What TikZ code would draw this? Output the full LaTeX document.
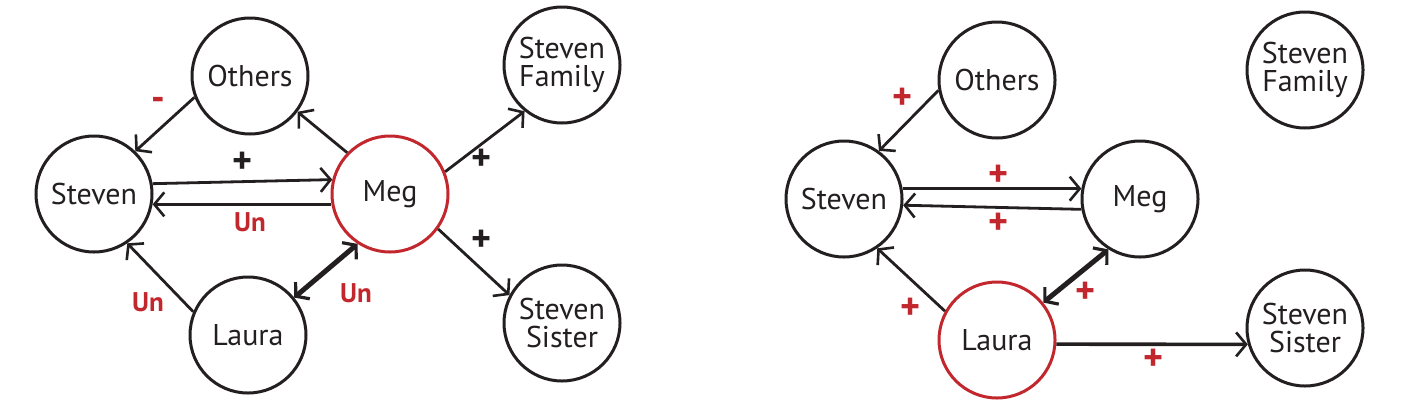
\documentclass[tikz,border=0pt]{standalone}
\usepackage{fontspec}
\setmainfont{PT Sans}
\usetikzlibrary{arrows.meta}
\definecolor{nred}{HTML}{C1272D}
\definecolor{ink}{HTML}{231F20}
\tikzset{
  person/.style={circle, draw=ink, line width=3pt, minimum size=116pt, inner sep=0pt, align=center, font=\fontsize{30}{28}\selectfont, text=ink},
  focus/.style={person, draw=nred},
  link/.style={draw=ink, line width=2.8pt, -{Straight Barb[length=10pt,width=24pt,line width=2.6pt]}},
  thick link/.style={draw=ink, line width=5pt, {Straight Barb[length=9pt,width=22pt,line width=3.2pt]}-{Straight Barb[length=9pt,width=22pt,line width=3.2pt]}},
  sign/.style={font=\bfseries\fontsize{27}{27}\selectfont, text=nred, inner sep=0pt},
  plus/.style={font=\bfseries\fontsize{38}{38}\selectfont, text=nred, inner sep=0pt},
  blackplus/.style={plus, text=ink},
}
\begin{document}
\begin{tikzpicture}[x=1pt,y=-1pt]
\useasboundingbox (0,0) rectangle (1421,413);
% left panel
\node[person] (o1) at (250,76) {Others};
\node[person] (s1) at (94,194) {Steven};
\node[focus]  (m1) at (390,194) {Meg};
\node[person] (l1) at (248,335) {Laura};
\node[person] (f1) at (562,65) {Steven\\Family};
\node[person] (ss1) at (562,323) {Steven\\Sister};
\draw[link] (o1.201) -- (s1.46);
\draw[link] (m1.136) -- (o1.-37);
\draw[link] (s1.10) -- (m1.166);
\draw[link] (m1.190) -- (s1.-10);
\draw[link] (l1.157) -- (s1.-56);
\draw[thick link] (l1.39) -- (m1.237);
\draw[link] (m1.22) -- (f1.231);
\draw[link] (m1.-36) -- (ss1.152);
\node[plus] (a1) at (158,104) {-};
\node[blackplus] (a2) at (243,163) {+};
\node[sign] (a3) at (250,222) {Un};
\node[sign] (a4) at (148,302) {Un};
\node[sign] (a5) at (356,293) {Un};
\node[blackplus] (a6) at (482,160) {+};
\node[blackplus] (a7) at (482,241) {+};
% right panel
\node[person] (o2) at (997,80) {Others};
\node[person] (s2) at (844,199) {Steven};
\node[person] (m2) at (1140,199) {Meg};
\node[focus]  (l2) at (997,340) {Laura};
\node[person] (f2) at (1305,70) {Steven\\Family};
\node[person] (ss2) at (1305,328) {Steven\\Sister};
\draw[link] (o2.190) -- (s2.54);
\draw[link] (s2.10) -- (m2.170);
\draw[link] (m2.190) -- (s2.-6);
\draw[link] (l2.151) -- (s2.-56);
\draw[thick link] (l2.39) -- (m2.238);
\draw[link, line width=3.6pt] (l2.-4) -- (ss2.196);
\node[plus] (b1) at (903,99) {+};
\node[plus] (b2) at (998,176) {+};
\node[plus] (b3) at (998,224) {+};
\node[plus] (b4) at (911,309) {+};
\node[plus] (b5) at (1085,293) {+};
\node[plus] (b6) at (1153,360) {+};
\end{tikzpicture}
\end{document}
